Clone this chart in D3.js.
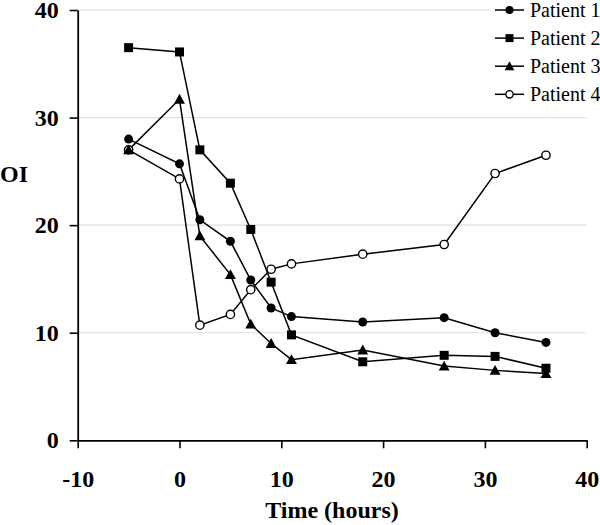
<!DOCTYPE html>
<html><head><meta charset="utf-8">
<script src="https://cdn.jsdelivr.net/npm/d3@7"></script>
<style>body{margin:0;background:#fff}svg{display:block}</style>
</head><body>
<svg id="c" width="600" height="525"></svg>
<script>
const times = [-5, 0, 2, 5, 7, 9, 11, 18, 26, 31, 36];
const patient1 = [28.0, 25.7, 20.5, 18.5, 14.9, 12.3, 11.5, 11.0, 11.4, 10.0, 9.1];
const patient2 = [36.5, 36.1, 27.0, 23.9, 19.6, 14.7, 9.8, 7.3, 7.9, 7.8, 6.7];
const patient3 = [27.0, 31.7, 19.0, 15.4, 10.8, 9.0, 7.5, 8.4, 6.9, 6.5, 6.2];
const patient4 = [27.0, 24.3, 10.7, 11.7, 14.0, 15.9, 16.4, 17.3, 18.2, 24.8, 26.5];
const seriesNames = ["Patient 1", "Patient 2", "Patient 3", "Patient 4"];
const xTicks = [-10, 0, 10, 20, 30, 40];
const yTicks = [0, 10, 20, 30, 40];

const series = [
  {name: seriesNames[0], values: patient1, shape: "circle", fill: "#000"},
  {name: seriesNames[1], values: patient2, shape: "square", fill: "#000"},
  {name: seriesNames[2], values: patient3, shape: "triangle", fill: "#000"},
  {name: seriesNames[3], values: patient4, shape: "circle", fill: "#fff", open: true}
];

const svg = d3.select("#c");
const x = d3.scaleLinear().domain([-10, 40]).range([77.7, 586.7]);
const y = d3.scaleLinear().domain([0, 40]).range([440.3, 10]);
const serif = "'Liberation Serif','Times New Roman',serif";

// gridlines
svg.append("g").selectAll("line").data(yTicks.filter(d => d > 0)).join("line")
  .attr("x1", x(-10)).attr("x2", x(40))
  .attr("y1", d => y(d)).attr("y2", d => y(d))
  .attr("stroke", "#dedede").attr("stroke-width", 1.2);

// axes
const yAxis = svg.append("g").attr("transform", `translate(${x(-10)},0)`)
  .call(d3.axisLeft(y).tickValues(yTicks).tickSize(8).tickPadding(11).tickSizeOuter(0));
const xAxis = svg.append("g").attr("transform", `translate(0,${y(0)})`)
  .call(d3.axisBottom(x).tickValues(xTicks).tickSize(8).tickPadding(21.4).tickSizeOuter(0)
        .tickFormat(d3.format("d")));
[xAxis, yAxis].forEach(a => {
  a.select(".domain").attr("stroke", "#000").attr("stroke-width", 1.8);
  a.selectAll(".tick line").attr("stroke", "#000").attr("stroke-width", 1.6);
  a.selectAll(".tick text").attr("fill", "#000")
    .style("font-family", serif).style("font-weight", "bold").style("font-size", "24px");
});
xAxis.selectAll(".tick text").text(d => d < 0 ? "-" + Math.abs(d) : d);

// axis titles
svg.append("text").attr("x", 332).attr("y", 518).attr("text-anchor", "middle")
  .style("font-family", serif).style("font-weight", "bold").style("font-size", "24px")
  .text("Time (hours)");
svg.append("text").attr("x", 0).attr("y", 182)
  .style("font-family", serif).style("font-weight", "bold").style("font-size", "24px")
  .text("OI");

function marker(g, shape, fill, open, size) {
  if (shape === "circle") {
    g.append("circle").attr("r", open ? size * 0.46 : size * 0.5)
      .attr("fill", fill).attr("stroke", "#000").attr("stroke-width", open ? 1.4 : 0);
  } else if (shape === "square") {
    g.append("rect").attr("x", -size / 2).attr("y", -size / 2)
      .attr("width", size).attr("height", size).attr("fill", fill);
  } else {
    const s = size * 1.1;
    g.append("path").attr("d", `M0,${-s * 0.55}L${s * 0.55},${s * 0.45}L${-s * 0.55},${s * 0.45}Z`)
      .attr("fill", fill);
  }
}

const line = d3.line().x((d, i) => x(times[i])).y(d => y(d));
// lines
svg.append("g").selectAll("path").data(series).join("path")
  .attr("d", s => line(s.values)).attr("fill", "none")
  .attr("stroke", "#000").attr("stroke-width", 1.5);

// markers (patient 4 first so filled markers sit on top)
const order = [3, 0, 1, 2];
order.forEach(k => {
  const s = series[k];
  s.values.forEach((v, i) => {
    const g = svg.append("g").attr("transform", `translate(${x(times[i])},${y(v)})`);
    marker(g, s.shape, s.fill, s.open, 9);
  });
});

// legend
svg.append("rect").attr("x", 491).attr("y", 0).attr("width", 109).attr("height", 106).attr("fill", "#fff");
series.forEach((s, i) => {
  const cy = 10 + i * 28.1;
  const g = svg.append("g").attr("transform", `translate(0,${cy})`);
  g.append("line").attr("x1", 495).attr("x2", 524).attr("y1", 0).attr("y2", 0)
    .attr("stroke", "#000").attr("stroke-width", 1.5);
  const mg = g.append("g").attr("transform", "translate(509.5,0)");
  marker(mg, s.shape, s.fill, s.open, 8);
  g.append("text").attr("x", 530).attr("y", 7)
    .style("font-family", serif).style("font-size", "20px").attr("fill", "#000")
    .text(s.name);
});
</script>
</body></html>
